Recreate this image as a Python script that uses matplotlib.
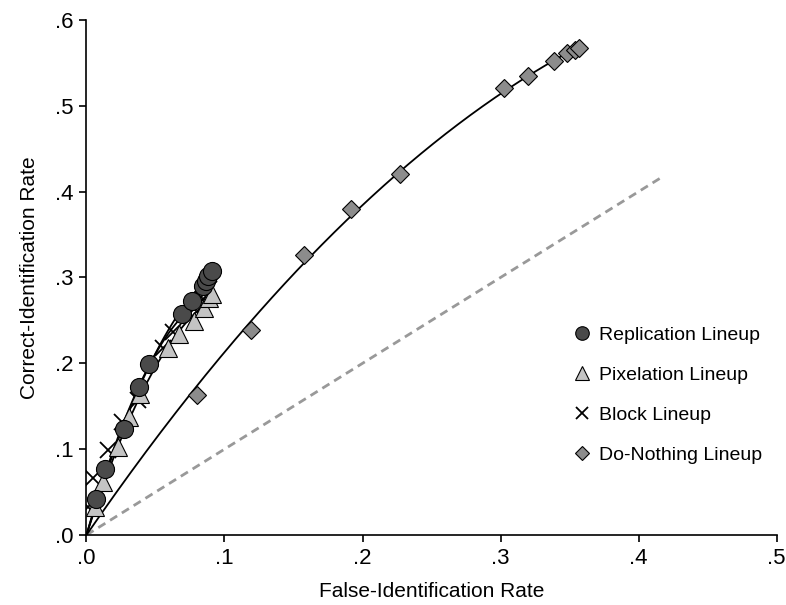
import numpy as np
import matplotlib
matplotlib.use("Agg")
import matplotlib.pyplot as plt
from matplotlib.ticker import FuncFormatter

plt.rcParams['font.family'] = ['Liberation Sans', 'DejaVu Sans']

# values
rep_far = [0.0066, 0.0133, 0.0272, 0.038, 0.045, 0.069, 0.0763, 0.0842, 0.0865, 0.0878, 0.0912]
rep_hit = [0.042, 0.077, 0.123, 0.172, 0.199, 0.258, 0.273, 0.290, 0.296, 0.302, 0.308]

pix_far = [0.0061, 0.012, 0.023, 0.031, 0.0386, 0.059, 0.0674, 0.078, 0.0854, 0.089, 0.0912]
pix_hit = [0.033, 0.062, 0.103, 0.138, 0.164, 0.218, 0.234, 0.249, 0.265, 0.276, 0.281]

blk_far = [0.001, 0.005, 0.0155, 0.0254, 0.0374, 0.0554, 0.0626, 0.078, 0.0842, 0.089]
blk_hit = [0.033, 0.066, 0.099, 0.132, 0.1575, 0.218, 0.237, 0.263, 0.2745, 0.2865]

dn_far = [0.080, 0.119, 0.1575, 0.192, 0.227, 0.3025, 0.320, 0.339, 0.348, 0.354, 0.357]
dn_hit = [0.163, 0.239, 0.326, 0.380, 0.420, 0.521, 0.5345, 0.552, 0.562, 0.565, 0.567]

chance_end = 0.418


def fit_curve(xs, ys):
    # least squares y = a*x + b*x^2, forced through the origin
    xs = np.asarray(xs)
    ys = np.asarray(ys)
    A = np.column_stack([xs, xs ** 2])
    coef = np.linalg.lstsq(A, ys, rcond=None)[0]
    xx = np.linspace(0, xs.max(), 200)
    return xx, coef[0] * xx + coef[1] * xx ** 2


fig, ax = plt.subplots(figsize=(7.86, 6.05), dpi=100)
fig.subplots_adjust(left=0.110, right=0.988, bottom=0.1157, top=0.967)

ax.plot([0, chance_end], [0, chance_end], color='#999999', lw=2, ls=(0, (3, 2)), zorder=1)

for xs, ys in [(rep_far, rep_hit), (pix_far, pix_hit), (blk_far, blk_hit), (dn_far, dn_hit)]:
    xx, yy = fit_curve(xs, ys)
    ax.plot(xx, yy, color='black', lw=1.3, zorder=2)

ax.plot(dn_far, dn_hit, ls='none', marker='D', ms=9, mfc='#8c8c8c', mec='black', mew=0.8,
        label='Do-Nothing Lineup', zorder=3)
ax.plot(blk_far, blk_hit, ls='none', marker='x', ms=11, mec='black', mew=1.3,
        label='Block Lineup', zorder=4)
ax.plot(pix_far, pix_hit, ls='none', marker='^', ms=13, mfc='#c4c4c4', mec='black', mew=0.8,
        label='Pixelation Lineup', zorder=5)
ax.plot(rep_far, rep_hit, ls='none', marker='o', ms=13, mfc='#4a4a4a', mec='black', mew=0.8,
        label='Replication Lineup', zorder=6)

ax.set_xlim(0, 0.5)
ax.set_ylim(0, 0.6)
ax.set_xticks(np.arange(0, 0.51, 0.1))
ax.set_yticks(np.arange(0, 0.61, 0.1))
fmt = FuncFormatter(lambda v, p: ('%.1f' % v)[1:])
ax.xaxis.set_major_formatter(fmt)
ax.yaxis.set_major_formatter(fmt)
ax.tick_params(labelsize=16, length=5, width=1.2, direction='out', pad=4)

for s in ['top', 'right']:
    ax.spines[s].set_visible(False)
for s in ['left', 'bottom']:
    ax.spines[s].set_linewidth(1.2)

ax.set_xlabel('False-Identification Rate', fontsize=15, labelpad=10)
ax.set_ylabel('Correct-Identification Rate', fontsize=15, labelpad=12)

handles, labels = ax.get_legend_handles_labels()
order = [3, 2, 1, 0]
leg = fig.legend([handles[i] for i in order], [labels[i] for i in order],
                 loc='center left', bbox_to_anchor=(0.7277, 0.347), frameon=False,
                 fontsize=14, markerscale=0.75, handletextpad=0.4, labelspacing=1.16,
                 handlelength=1.0, borderpad=0, borderaxespad=0)

fig.savefig('out.png', dpi=100)
